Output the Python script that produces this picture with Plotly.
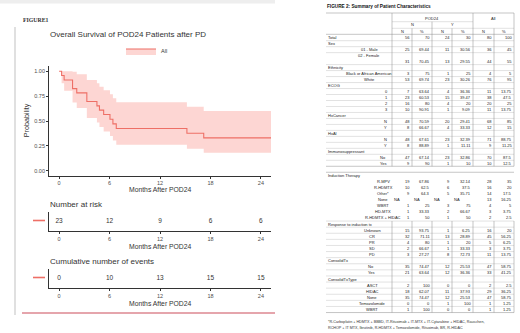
import plotly.graph_objects as go

W, H = 520, 333
def px(x): return x / W
def py(y): return 1 - y / H

# ---------------- Kaplan-Meier data ----------------
km_time  = [0, 0.3, 0.6, 1.6, 2.1, 3.3, 4.5, 4.8, 5.3, 6.05, 6.4, 6.8, 15.2, 17.2, 25.2]
km_surv  = [1.0, 0.957, 0.913, 0.826, 0.783, 0.696, 0.652, 0.609, 0.565, 0.518, 0.471, 0.424, 0.377, 0.330, 0.330]
km_upper = [1.0, 1.0, 1.0, 0.996, 0.971, 0.912, 0.879, 0.845, 0.808, 0.770, 0.730, 0.689, 0.644, 0.600, 0.600]
km_lower = [1.0, 0.879, 0.805, 0.685, 0.631, 0.531, 0.484, 0.439, 0.395, 0.349, 0.304, 0.261, 0.220, 0.182, 0.182]

risk_times = [0, 6, 12, 18, 24]
n_at_risk = [23, 12, 9, 6, 6]
cum_events = [0, 10, 13, 15, 15]
y_ticks = [0, 0.25, 0.5, 0.75, 1.0]
y_ticktext = ["0.00", "0.25", "0.50", "0.75", "1.00"]

# ---------------- Patient characteristics table ----------------
upper_rows = ["Total", "Sex", "01 - Male", "02 - Female", "Ethnicity", "Black or African American", "White",
              "ECOG", "0", "1", "2", "3", "HxCancer", "N", "Y", "HxAI", "N", "Y", "Immunosuppressant", "No", "Yes"]
upper_n_N   = [56, None, 25, 31, None, 3, 53, None, 7, 23, 16, 10, None, 48, 8, None, 48, 8, None, 47, 9]
upper_pct_N = ["70", None, "69.44", "70.45", None, "75", "69.74", None, "63.64", "60.53", "80", "90.91", None,
               "70.59", "66.67", None, "67.61", "88.89", None, "67.14", "90"]
upper_n_Y   = [24, None, 11, 13, None, 1, 23, None, 4, 15, 4, 1, None, 20, 4, None, 23, 1, None, 23, 1]
upper_pct_Y = ["30", None, "30.56", "29.55", None, "25", "30.26", None, "36.36", "39.47", "20", "9.09", None,
               "29.41", "33.33", None, "32.39", "11.11", None, "32.86", "10"]
upper_n_All   = [80, None, 36, 44, None, 4, 76, None, 11, 38, 20, 11, None, 68, 12, None, 71, 9, None, 70, 10]
upper_pct_All = ["100", None, "45", "55", None, "5", "95", None, "13.75", "47.5", "25", "13.75", None,
                 "85", "15", None, "88.75", "11.25", None, "87.5", "12.5"]

lower_rows = ["Induction Therapy", "R-MPV", "R-HDMTX", "Other*", "None", "WBRT", "HD-MTX", "R-HDMTX + HIDAC",
              "Response to induction tx", "Unknown", "CR", "PR", "SD", "PD", "ConsolidTx", "No", "Yes",
              "ConsolidTxType", "ASCT", "HIDAC", "None", "Temozolomide", "WBRT"]
lower_n_N   = [None, 19, 10, 9, "NA", 1, 1, 1, None, 15, 32, 4, 2, 3, None, 35, 21, None, 2, 18, 35, 0, 1]
lower_pct_N = [None, "67.86", "62.5", "64.3", "NA", "25", "33.33", "50", None, "93.75", "71.11", "80", "66.67",
               "27.27", None, "74.47", "63.64", None, "100", "62.07", "74.47", "0", "100"]
lower_n_Y   = [None, 9, 6, 5, "NA", 3, 2, 1, None, 1, 13, 1, 1, 8, None, 12, 12, None, 0, 11, 12, 1, 0]
lower_pct_Y = [None, "32.14", "37.5", "35.71", "NA", "75", "66.67", "50", None, "6.25", "28.89", "20", "33.33",
               "72.73", None, "25.53", "36.36", None, "0", "37.93", "25.53", "100", "0"]
lower_n_All   = [None, 28, 16, 14, 13, 4, 3, 2, None, 16, 45, 5, 3, 11, None, 47, 33, None, 2, 29, 47, 1, 1]
lower_pct_All = [None, "35", "20", "17.5", "16.25", "5", "3.75", "2.5", None, "20", "56.25", "6.25", "3.75",
                 "13.75", None, "58.75", "41.25", None, "2.5", "36.25", "58.75", "1.25", "1.25"]

group_rows = {"Total", "Sex", "Ethnicity", "ECOG", "HxCancer", "HxAI", "Immunosuppressant",
              "Induction Therapy", "Response to induction tx", "ConsolidTx", "ConsolidTxType"}
footnote = ["*R-Carboplatin + HDMTX + BBBD, IT-Rituximab + IT-MTX + IT-Cytarabine + HIDAC, Rauschen,",
            "RCHOP + IT MTX, Ibrutinib, R-HDMTX + Temozolomide, Rituximab, BR, R-HIDAC"]

# ---------------- styles ----------------
RED = "#EE6F66"
BAND = "rgba(248,118,109,0.30)"
AX = "#333333"
TXT = "#4d4d4d"
SANS = "Liberation Sans, Arial, sans-serif"
TSANS = "Liberation Sans Narrow, Liberation Sans, Arial, sans-serif"

fig = go.Figure()

fig.add_trace(go.Scatter(x=km_time, y=km_lower, mode="lines", line=dict(shape="hv", width=0, color=BAND),
                         showlegend=False, hoverinfo="skip"))
fig.add_trace(go.Scatter(x=km_time, y=km_surv, mode="lines", line=dict(shape="hv", width=1.1, color=RED),
                         fill="tonexty", fillcolor=BAND, name="All", showlegend=True))
fig.add_trace(go.Scatter(x=km_time, y=km_upper, mode="lines", line=dict(shape="hv", width=0, color=BAND),
                         fill="tonexty", fillcolor=BAND, showlegend=False, hoverinfo="skip"))

fig.add_trace(go.Scatter(x=risk_times, y=[0] * len(risk_times), text=[str(v) for v in n_at_risk], mode="text",
                         textfont=dict(size=6.5, color="#333", family=SANS), xaxis="x2", yaxis="y2", showlegend=False))
fig.add_trace(go.Scatter(x=risk_times, y=[0] * len(risk_times), text=[str(v) for v in cum_events], mode="text",
                         textfont=dict(size=6.5, color="#333", family=SANS), xaxis="x3", yaxis="y3", showlegend=False))

xdom = [px(49), px(271)]
def xaxis(anchor):
    return dict(domain=xdom, range=[-1.2, 25.2], tickvals=risk_times, showline=True, linecolor=AX, linewidth=0.8,
                ticks="outside", ticklen=2, tickcolor=AX, tickwidth=0.6, tickfont=dict(size=5.5, color=TXT, family=SANS),
                showgrid=False, zeroline=False, anchor=anchor, automargin=False, fixedrange=True)

fig.update_layout(
    width=W, height=H, margin=dict(l=0, r=0, t=0, b=0),
    paper_bgcolor="white", plot_bgcolor="white",
    xaxis=xaxis("y"),
    yaxis=dict(domain=[py(175.7), py(66.3)], range=[-0.05, 1.05], tickvals=y_ticks, ticktext=y_ticktext,
               showline=True, linecolor=AX, linewidth=0.8, ticks="outside", ticklen=2, tickcolor=AX, tickwidth=0.6,
               tickfont=dict(size=5.5, color=TXT, family=SANS), showgrid=False, zeroline=False,
               automargin=False, fixedrange=True),
    xaxis2=xaxis("y2"),
    yaxis2=dict(domain=[py(231), py(212)], range=[-0.5, 0.5], showline=True, linecolor=AX, linewidth=0.8,
                showticklabels=False, ticks="", showgrid=False, zeroline=False, automargin=False),
    xaxis3=xaxis("y3"),
    yaxis3=dict(domain=[py(288), py(269)], range=[-0.5, 0.5], showline=True, linecolor=AX, linewidth=0.8,
                showticklabels=False, ticks="", showgrid=False, zeroline=False, automargin=False),
    legend=dict(orientation="h", x=px(121), y=py(51), xanchor="left", yanchor="middle",
                font=dict(size=5.5, color="#333", family=SANS), itemwidth=30, bgcolor="rgba(0,0,0,0)",
                tracegroupgap=0),
    showlegend=True,
)

ann = []
shapes = []
def text(x, y, s, size, color="#222", xanchor="left", family=SANS, bold=False, textangle=0):
    if bold:
        s = "<b>" + s + "</b>"
    ann.append(dict(x=px(x), y=py(y), xref="paper", yref="paper", text=s, showarrow=False,
                    xanchor=xanchor, yanchor="middle", font=dict(size=size, color=color, family=family),
                    textangle=textangle, borderpad=0))
def line(x0, y0, x1, y1, color, width):
    shapes.append(dict(type="line", xref="paper", yref="paper", x0=px(x0), y0=py(y0), x1=px(x1), y1=py(y1),
                       line=dict(color=color, width=width)))

# frame of figure 1
shapes.append(dict(type="rect", xref="paper", yref="paper", x0=0, x1=px(275), y0=py(3.5), y1=1,
                   fillcolor="#eeeeee", line=dict(width=0), layer="below"))
line(15, 27, 15, 315, "#cccccc", 1.2)
line(22, 313, 275, 313, "#dc8790", 1.6)

text(22, 20, "FIGURE1", 5.8, "#333", family="Liberation Serif, Times New Roman, serif", bold=True)
text(49, 35, "Overall Survival of POD24 Patients after PD", 8, "#333")
text(26.5, 120.7, "Probability", 7.2, "#333", xanchor="center", textangle=-90)
for yy in (189, 246, 303):
    text(160, yy, "Months After POD24", 6.8, "#333", xanchor="center")
text(49, 204, "Number at risk", 8, "#333")
text(49, 261, "Cumulative number of events", 8, "#333")
line(33, 220.5, 45, 220.5, RED, 1.6)
line(33, 277.5, 45, 277.5, RED, 1.6)

# ---------------- table drawing ----------------
cols = [392, 412, 432, 452, 473, 494, 514]
VL = "#8a8a8a"
HL = "#c4c4c4"
FS = 4.0
text(326, 6, "FIGURE 2: Summary of Patient Characteristics", 4.7, "#111", bold=True, family=SANS)

# header
line(326, 13, 514, 13, VL, 0.5)
line(392, 21.7, 473, 21.7, HL, 0.5)
line(392, 28.3, 514, 28.3, HL, 0.5)
line(326, 34.3, 514, 34.3, VL, 0.5)
text(432, 18.5, "POD24", FS, xanchor="center", family=TSANS)
text(493.5, 18.5, "All", FS, xanchor="center", family=TSANS)
text(412, 25, "N", FS, xanchor="center", family=TSANS)
text(452, 25, "Y", FS, xanchor="center", family=TSANS)
for i, h in enumerate(["N", "%", "N", "%", "N", "%"]):
    text((cols[i] + cols[i + 1]) / 2, 31.5, h, FS, xanchor="center", family=TSANS)

section_center = {"Sex": 369, "Ethnicity": 369, "ECOG": 386, "HxCancer": 385, "HxAI": 385,
                  "Immunosuppressant": 383, "Induction Therapy": 383, "Response to induction tx": 372,
                  "ConsolidTx": 371, "ConsolidTxType": 372}
tall_rows = {"02 - Female"}

def draw_rows(rows, vals, y_start, step):
    y = y_start
    section = None
    tops = []
    for i, lab in enumerate(rows):
        tall = lab in tall_rows
        top = y - step / 2
        tops.append(top)
        label_y = y
        val_y = y + (step if tall else 0)
        if lab in group_rows:
            section = lab
            text(327, label_y, lab, FS, family=TSANS)
        else:
            text(section_center.get(section, 372), label_y, lab, FS, xanchor="center", family=TSANS)
        for c, arr in enumerate(vals):
            v = arr[i]
            if v is None:
                continue
            s = str(v)
            if s == "NA":
                text(cols[c] + 1, val_y, s, FS, xanchor="left", family=TSANS)
            else:
                text(cols[c + 1] - 0.8, val_y, s, FS, xanchor="right", family=TSANS)
        y += step * (2 if tall else 1)
    bottom = y - step / 2
    return tops, bottom

upper_vals = [upper_n_N, upper_pct_N, upper_n_Y, upper_pct_Y, upper_n_All, upper_pct_All]
lower_vals = [lower_n_N, lower_pct_N, lower_n_Y, lower_pct_Y, lower_n_All, lower_pct_All]

tops, bottom = draw_rows(upper_rows, upper_vals, 37.7, 5.98)
for t in tops[1:]:
    line(326, t, 514, t, HL, 0.5)
line(326, bottom, 514, bottom, VL, 0.5)
for c in cols:
    top_y = 13 if c in (392, 473, 514) else (21.7 if c == 432 else 28.3)
    line(c, top_y, c, bottom, VL, 0.5)

tops2, bottom2 = draw_rows(lower_rows, lower_vals, 175.3, 6.1)
line(326, tops2[0], 514, tops2[0], VL, 0.5)
resp = lower_rows.index("Response to induction tx")
for t in tops2[resp:]:
    line(326, t, 514, t, HL, 0.5)
line(326, bottom2, 514, bottom2, VL, 0.5)
for c in cols:
    line(c, tops2[resp], c, bottom2, VL, 0.5)

text(327, 322.3, footnote[0], 3.7, "#333", family=TSANS)
text(327, 328.3, footnote[1], 3.7, "#333", family=TSANS)

fig.update_layout(annotations=ann, shapes=shapes)
fig.write_html("out.html", config={"displayModeBar": False, "staticPlot": False},
               post_script="document.body.style.margin='0';document.body.style.padding='0';"
                           "document.body.style.overflow='hidden';")
